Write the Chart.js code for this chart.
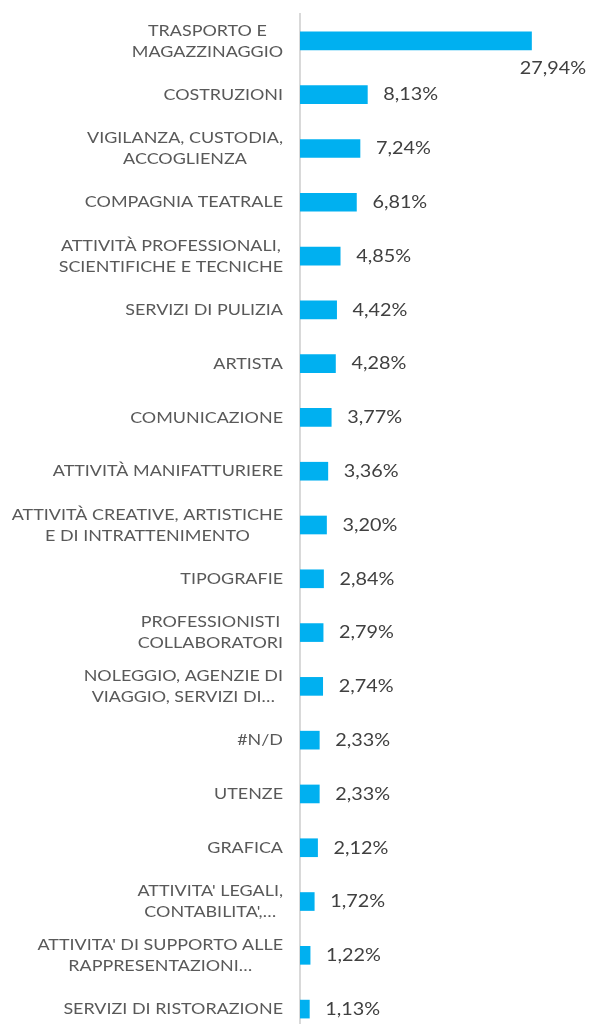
<!DOCTYPE html>
<html>
<head>
<meta charset="utf-8">
<script src="https://cdn.jsdelivr.net/npm/chart.js@4"></script>
<style>
  html, body { margin: 0; padding: 0; background: #fff; overflow: hidden; }
  #wrap { width: 593px; height: 1024px; overflow: hidden; }
</style>
</head>
<body>
<div id="wrap"><canvas id="chart" width="593" height="1040"></canvas></div>
<script>
// Categories (wrapped as in the original chart)
const categories = [
    ['TRASPORTO E', 'MAGAZZINAGGIO'],
    ['COSTRUZIONI'],
    ['VIGILANZA, CUSTODIA,', 'ACCOGLIENZA'],
    ['COMPAGNIA TEATRALE'],
    ['ATTIVITÀ PROFESSIONALI,', 'SCIENTIFICHE E TECNICHE'],
    ['SERVIZI DI PULIZIA'],
    ['ARTISTA'],
    ['COMUNICAZIONE'],
    ['ATTIVITÀ MANIFATTURIERE'],
    ['ATTIVITÀ CREATIVE, ARTISTICHE', 'E DI INTRATTENIMENTO'],
    ['TIPOGRAFIE'],
    ['PROFESSIONISTI ', 'COLLABORATORI'],
    ['NOLEGGIO, AGENZIE DI', 'VIAGGIO, SERVIZI DI…'],
    ['#N/D'],
    ['UTENZE'],
    ['GRAFICA'],
    ["ATTIVITA' LEGALI,", "CONTABILITA',…"],
    ["ATTIVITA' DI SUPPORTO ALLE", 'RAPPRESENTAZIONI…'],
    ['SERVIZI DI RISTORAZIONE']
];

// Share per category (%)
const shares = [27.94, 8.13, 7.24, 6.81, 4.85, 4.42, 4.28, 3.77, 3.36, 3.20,
                2.84, 2.79, 2.74, 2.33, 2.33, 2.12, 1.72, 1.22, 1.13];

const FONT = 'Lato, "Open Sans", sans-serif';

// text drawn a bit wider to mimic the wide original typeface
function wideText(ctx, txt, x, y, align, sx) {
    const w = ctx.measureText(txt).width * sx;
    let left = x;
    if (align === 'right') left = x - w;
    else if (align === 'center') left = x - w / 2;
    ctx.save();
    ctx.textAlign = 'left';
    ctx.translate(left, y);
    ctx.scale(sx, 1);
    ctx.fillText(txt, 0, 0);
    ctx.restore();
}

// Draw category labels (each block right-aligned, lines centred) and value labels
const labelPlugin = {
    id: 'labelPlugin',
    afterDraw(chart) {
        const ctx = chart.ctx;
        const yScale = chart.scales.y;
        const meta = chart.getDatasetMeta(0);
        ctx.save();
        ctx.textBaseline = 'middle';

        // category labels
        const sx = 1.12;
        ctx.font = '16px ' + FONT;
        ctx.fillStyle = '#595959';
        const rightEdge = chart.chartArea.left - 17;
        const lineH = 21;
        categories.forEach((lines, i) => {
            const y = yScale.getPixelForValue(i);
            const widest = Math.max(...lines.map(l => ctx.measureText(l.trim()).width)) * sx;
            const cx = rightEdge - widest / 2;
            const top = y - (lines.length - 1) * lineH / 2;
            lines.forEach((l, j) => wideText(ctx, l.trim(), cx, top + j * lineH, 'center', sx));
        });

        // value labels
        ctx.font = '18px ' + FONT;
        ctx.fillStyle = '#404040';
        meta.data.forEach((bar, i) => {
            const txt = shares[i].toFixed(2).replace('.', ',') + '%';
            if (i === 0) {
                wideText(ctx, txt, chart.chartArea.right - 4, bar.y + 27, 'right', 1.1);
            } else {
                wideText(ctx, txt, bar.x + 16, bar.y, 'left', 1.1);
            }
        });
        ctx.restore();
    }
};

const ctx = document.getElementById('chart').getContext('2d');
new Chart(ctx, {
    type: 'bar',
    data: {
        labels: categories,
        datasets: [{
            data: shares,
            backgroundColor: '#00B0F0',
            borderWidth: 0,
            barThickness: 18
        }]
    },
    options: {
        indexAxis: 'y',
        responsive: false,
        animation: false,
        layout: { padding: { top: 14, bottom: 4, right: 3, left: 0 } },
        plugins: {
            legend: { display: false },
            tooltip: { enabled: false }
        },
        scales: {
            x: {
                display: false,
                min: 0,
                max: 35
            },
            y: {
                ticks: { display: false },
                grid: { display: false, drawTicks: false },
                border: { display: true, color: '#d9d9d9', width: 2 },
                afterFit(scale) { scale.width = 300; }
            }
        }
    },
    plugins: [labelPlugin]
});
</script>
</body>
</html>
